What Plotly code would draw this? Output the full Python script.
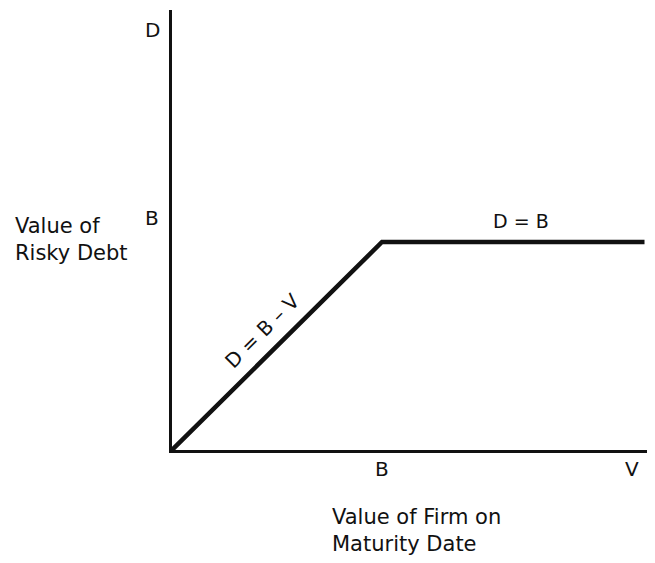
"""Payoff of risky debt at maturity"""

import plotly.graph_objects as go

# payoff of the debt: D = V below the face value B, D = B above it
firm_value = [0, 1.0, 2.25]
debt_value = [0, 1.0, 1.0]

x_ticks = [1.0, 2.19]
x_tick_labels = ['B', 'V']
y_ticks = [1.0, 2.02]
y_tick_labels = ['B', 'D']

FONT = 'DejaVu Sans, Liberation Sans, Arial, sans-serif'
INK = '#111111'

fig = go.Figure()
fig.add_trace(go.Scatter(x=firm_value, y=debt_value, mode='lines',
                         line={'color': INK, 'width': 4.5}, hoverinfo='skip'))

annotations = []
for val, lab in zip(x_ticks, x_tick_labels):
    annotations.append(dict(x=val, y=0, text=lab, showarrow=False, yshift=-19,
                            font={'size': 20}))
for val, lab in zip(y_ticks, y_tick_labels):
    annotations.append(dict(x=0, y=val, text=lab, showarrow=False, xshift=-20,
                            yshift=24 if lab == 'B' else 0, font={'size': 20}))

annotations += [
    dict(x=1.664, y=1.0, text='D = B', showarrow=False, yshift=21,
         font={'size': 19}),
    dict(x=0.43, y=0.57, text='D = B – V', showarrow=False, textangle=-45,
         font={'size': 20}),
    dict(x=-0.331, xref='paper', y=1.0, text='Value of<br>Risky Debt',
         showarrow=False, xanchor='left', yanchor='middle', yshift=3,
         align='left', font={'size': 21}),
    dict(x=0.752, y=0, text='Value of Firm on<br>Maturity Date', showarrow=False,
         xanchor='left', yanchor='top', yshift=-53, align='left',
         font={'size': 21}),
]

fig.update_layout(
    width=647, height=555,
    margin={'l': 164, 'r': 3, 't': 2, 'b': 113},
    paper_bgcolor='white', plot_bgcolor='white',
    showlegend=False,
    font={'family': FONT, 'color': INK},
    annotations=annotations,
    xaxis={'range': [0, 2.2857], 'showgrid': False, 'zeroline': False,
           'showticklabels': False, 'ticks': '', 'showline': True,
           'linecolor': INK, 'linewidth': 2.5, 'fixedrange': True},
    yaxis={'range': [0, 2.1154], 'showgrid': False, 'zeroline': False,
           'showticklabels': False, 'ticks': '', 'showline': True,
           'linecolor': INK, 'linewidth': 2.5, 'fixedrange': True},
)

fig.write_html('out.html')
